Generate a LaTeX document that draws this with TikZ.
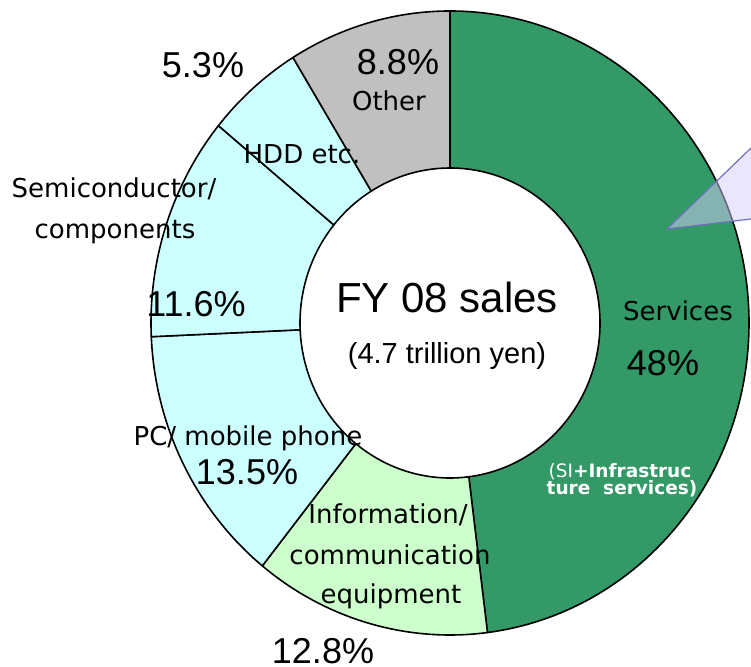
\documentclass[tikz,border=0pt]{standalone}
\usepackage{fontspec}
\setmainfont{Liberation Sans}
\newfontfamily\lblfont{DejaVu Sans}
\definecolor{servgreen}{RGB}{51,153,102}
\definecolor{infogreen}{RGB}{204,255,204}
\definecolor{devcyan}{RGB}{204,255,255}
\definecolor{othergray}{RGB}{192,192,192}
\definecolor{callfill}{RGB}{215,205,255}
\definecolor{calledge}{RGB}{112,112,192}
\begin{document}
\begin{tikzpicture}[x=1pt, y=1pt,
    pct/.style={anchor=base, inner sep=0pt, font=\fontsize{36}{36}\selectfont},
    lbl/.style={anchor=base, inner sep=0pt, font=\lblfont\fontsize{26}{26}\selectfont},
    sub/.style={anchor=base, inner sep=0pt, text=white, font=\lblfont\fontsize{18.5}{18.5}\selectfont}]
    \useasboundingbox (-450,323) rectangle (301,-343);
    % ring segments, clockwise from the top
    \foreach \a/\b/\c in {90/-82.8/servgreen, -82.8/-128.88/infogreen,
        -128.88/-177.48/devcyan, -177.48/-219.24/devcyan,
        -219.24/-238.32/devcyan, -238.32/-270/othergray}
        \filldraw[fill=\c, line width=1.6pt, line join=round]
            (\a:299 and 312) arc[start angle=\a, end angle=\b, x radius=299, y radius=312]
            -- (\b:150 and 155) arc[start angle=\b, end angle=\a, x radius=150, y radius=155]
            -- cycle;
    % callout
    \filldraw[fill=callfill, fill opacity=0.5, draw=calledge, line width=1.2pt]
        (301,175) -- (217,94) -- (301,104);
    \node[pct] (pctHdd) at (-247,245) {5.3\%};
    \node[pct] (pctOther) at (-52,248) {8.8\%};
    \node[lbl] (lblOther) at (-61,212) {Other};
    \node[lbl] (lblHdd) at (-148,159) {HDD etc.};
    \node[lbl] (lblSemi) at (-336,125) {Semiconductor/};
    \node[lbl] (lblComp) at (-335,84) {components};
    \node[pct] (pctSemi) at (-254,6) {11.6\%};
    \node[anchor=base, inner sep=0pt, font=\fontsize{42}{42}\selectfont] (title) at (-3,10) {FY 08 sales};
    \node[anchor=base, inner sep=0pt, font=\fontsize{29}{29}\selectfont] (total) at (-3,-40) {(4.7 trillion yen)};
    \node[lbl] (lblServ) at (228,2) {Services};
    \node[pct] (pctServ) at (213,-52) {48\%};
    \node[lbl] (lblPc) at (-202,-122) {PC/ mobile phone};
    \node[pct] (pctPc) at (-203,-161) {13.5\%};
    \node[lbl] (lblInfo) at (-62,-200) {Information/};
    \node[lbl] (lblComm) at (-60,-241) {communication};
    \node[lbl] (lblEquip) at (-59,-280) {equipment};
    \node[pct] (pctInfo) at (-127,-340) {12.8\%};
    \node[sub] (servA) at (170,-154) {(SI\textbf{+Infrastruc}};
    \node[sub, font=\lblfont\bfseries\fontsize{18.5}{18.5}\selectfont] (servB) at (172,-171) {ture \ services)};
\end{tikzpicture}
\end{document}
